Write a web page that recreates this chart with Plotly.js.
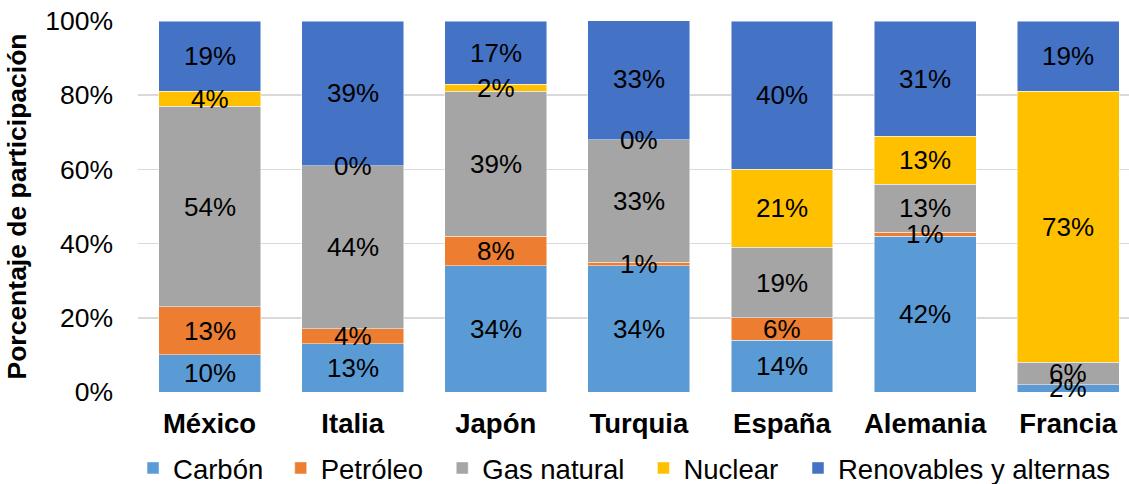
<!DOCTYPE html>
<html>
<head>
<meta charset="utf-8">
<script src="https://cdn.plot.ly/plotly-3.0.1.min.js"></script>
<style>html,body{margin:0;padding:0;background:#fff;}#chart{width:1129px;height:484px;}</style>
</head>
<body>
<div id="chart"></div>
<script>
const categories = ["México", "Italia", "Japón", "Turquia", "España", "Alemania", "Francia"];
const carbon     = [10, 13, 34, 34, 14, 42, 2];
const petroleo   = [13, 4, 8, 1, 6, 1, null];
const gasNatural = [54, 44, 39, 33, 19, 13, 6];
const nuclear    = [4, 0, 2, 0, 21, 13, 73];
const renovables = [19, 39, 17, 33, 40, 31, 19];
const seriesNames = ["Carbón", "Petróleo", "Gas natural", "Nuclear", "Renovables y alternas"];
const yTickVals = [0, 20, 40, 60, 80, 100];
const yTickText = ["0%", "20%", "40%", "60%", "80%", "100%"];

const series = [carbon, petroleo, gasNatural, nuclear, renovables];
const colors = ["#5B9BD5", "#ED7D31", "#A5A5A5", "#FFC000", "#4472C4"];
const FONT = "Liberation Sans, Arial, sans-serif";

// legend entry placement (paper fraction of plot width), one legend per series
const legendX = [-0.005, 0.144, 0.307, 0.510, 0.666];
const legendIds = ["legend", "legend2", "legend3", "legend4", "legend5"];

const traces = series.map((vals, i) => ({
  type: "bar",
  name: seriesNames[i],
  x: categories,
  y: vals,
  legend: legendIds[i],
  marker: {color: colors[i], line: {color: "rgba(255,255,255,0.6)", width: 0.8}},
  hoverinfo: "none"
}));

const annotations = [];
categories.forEach((c, j) => {
  let base = 0;
  series.forEach((vals) => {
    const v = vals[j];
    if (v === null || v === undefined) return;
    annotations.push({
      x: c, y: base + v / 2, xref: "x", yref: "y",
      text: v + "%", showarrow: false,
      font: {family: FONT, size: 26, color: "#000"}
    });
    base += v;
  });
});

const layout = {
  width: 1129, height: 484,
  margin: {l: 138, r: 0, t: 21, b: 92, autoexpand: false},
  paper_bgcolor: "#fff", plot_bgcolor: "#fff",
  barmode: "stack",
  bargap: 0.288,
  xaxis: {
    range: [-0.5, 6.425],
    tickfont: {family: FONT, size: 27.5, color: "#000", weight: "bold"},
    showgrid: false, zeroline: false, showline: false, ticks: "",
    ticklabelstandoff: 12,
    automargin: false,
    fixedrange: true
  },
  yaxis: {
    range: [0, 100],
    tickvals: yTickVals, ticktext: yTickText,
    tickfont: {family: FONT, size: 26.5, color: "#000"},
    gridcolor: "#D9D9D9", gridwidth: 1.5,
    zeroline: false, showline: false, ticks: "",
    ticklabelstandoff: 24,
    automargin: false,
    title: {text: "Porcentaje de participación", font: {family: FONT, size: 26.5, color: "#000", weight: "bold"}, standoff: 10},
    fixedrange: true
  },
  showlegend: true,
  annotations: annotations
};
legendIds.forEach((id, i) => {
  layout[id] = {
    orientation: "h", x: legendX[i], xanchor: "left", y: -0.205, yanchor: "middle",
    font: {family: FONT, size: 27.5, color: "#000"},
    bgcolor: "rgba(0,0,0,0)",
    itemclick: false, itemdoubleclick: false
  };
});

Plotly.newPlot("chart", traces, layout, {displayModeBar: false, staticPlot: true});
</script>
</body>
</html>
